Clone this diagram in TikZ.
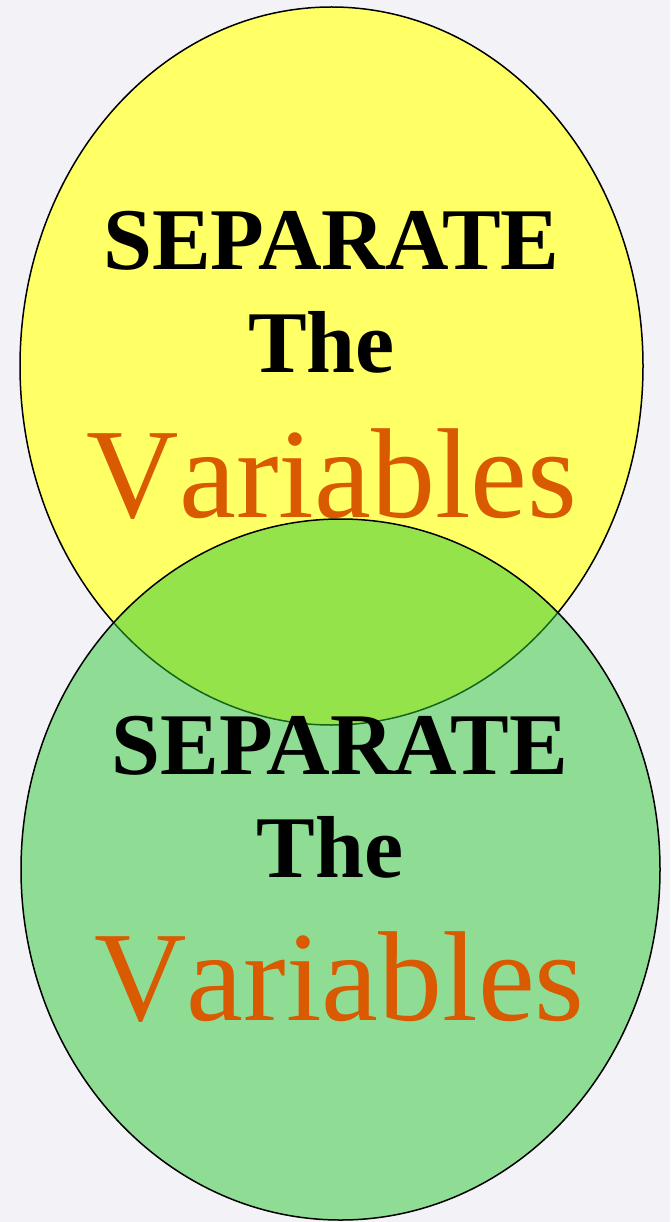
\documentclass[tikz,border=0pt]{standalone}
\usepackage{fontspec}
\setmainfont{Liberation Serif}
\definecolor{bgc}{RGB}{243,243,247}
\definecolor{yel}{RGB}{255,255,102}
\definecolor{grn}{RGB}{45,200,50}
\definecolor{org}{RGB}{217,90,0}
\tikzset{
  bubble/.style={draw=black, line width=1.5pt},
  bigword/.style={anchor=base, inner sep=0pt, font=\fontsize{88}{88}\selectfont\bfseries, text=black},
  varword/.style={anchor=base, inner sep=0pt, font=\fontsize{128}{128}\selectfont\addfontfeature{Kerning=Off}, text=org},
}
\begin{document}
\begin{tikzpicture}[x=1pt,y=-1pt]
\fill[bgc] (0,0) rectangle (670,1222);
\useasboundingbox (0,0) rectangle (670,1222);
% top yellow ellipse
\draw[bubble, fill=yel] (331.5,366) ellipse [x radius=311.5pt, y radius=359pt];
\node[bigword] (sep1) at (331.5,270) {SEPARATE};
\node[bigword] (the1) at (321.5,372) {The};
\node[varword] (var1) at (332,517) {Variables};
% bottom green ellipse, semi-transparent
\draw[bubble, fill=grn, fill opacity=0.5] (340.5,869.5) ellipse [x radius=319.5pt, y radius=350.5pt];
\node[bigword] (sep2) at (340,774) {SEPARATE};
\node[bigword] (the2) at (330,877) {The};
\node[varword] (var2) at (339.5,1020) {Variables};
\end{tikzpicture}
\end{document}
